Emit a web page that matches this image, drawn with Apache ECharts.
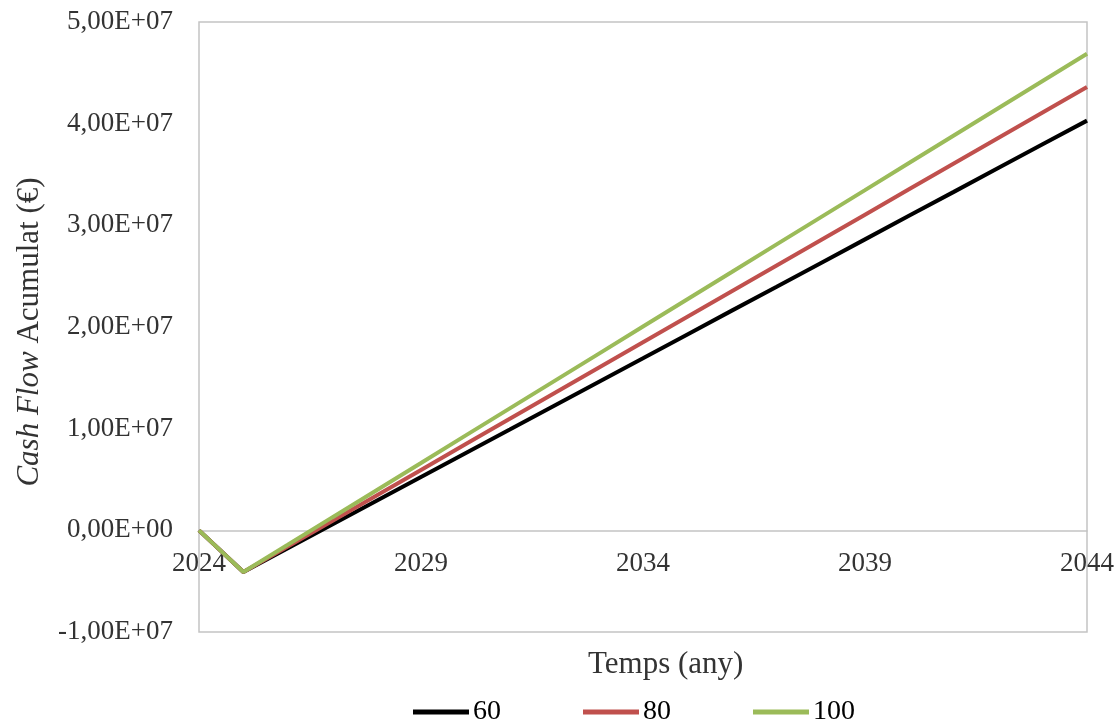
<!DOCTYPE html>
<html>
<head>
<meta charset="utf-8">
<script src="https://cdn.jsdelivr.net/npm/echarts@6/dist/echarts.min.js"></script>
<style>html,body{margin:0;padding:0;background:#fff}#c{width:1120px;height:727px}</style>
</head>
<body>
<div id="c"></div>
<script>
const years = [2024,2025,2026,2027,2028,2029,2030,2031,2032,2033,2034,2035,2036,2037,2038,2039,2040,2041,2042,2043,2044];
const s60  = [0,-4.10e6,-1.76e6,0.57e6,2.91e6,5.25e6,7.59e6,9.92e6,12.26e6,14.60e6,16.93e6,19.27e6,21.61e6,23.94e6,26.28e6,28.62e6,30.96e6,33.29e6,35.63e6,37.97e6,40.30e6];
const s80  = [0,-4.10e6,-1.59e6,0.92e6,3.43e6,5.94e6,8.46e6,10.97e6,13.48e6,15.99e6,18.50e6,21.01e6,23.52e6,26.03e6,28.54e6,31.05e6,33.57e6,36.08e6,38.59e6,41.10e6,43.61e6];
const s100 = [0,-4.10e6,-1.42e6,1.27e6,3.95e6,6.63e6,9.32e6,12.00e6,14.68e6,17.36e6,20.05e6,22.73e6,25.41e6,28.10e6,30.78e6,33.46e6,36.15e6,38.83e6,41.51e6,44.19e6,46.88e6];
const seriesNames = ['60','80','100'];
const colors = ['#000000','#C0504D','#9BBB59'];
const yMin = -1e7, yMax = 5e7;

const font = '"Liberation Serif", "Times New Roman", serif';
function fmt(v){
  if (v === 0) return '0,00E+00';
  const s = (Math.abs(v)/1e7).toFixed(2).replace('.',',') + 'E+07';
  return (v < 0 ? '-' : '') + s;
}
const gridTop = 22, gridBottom = 95, H = 727;
const plotH = H - gridTop - gridBottom;
// place the category axis line (and its labels) at value 0
const zeroOffset = -plotH * (0 - yMin) / (yMax - yMin);

const chart = echarts.init(document.getElementById('c'));
chart.setOption({
  animation:false,
  color: colors,
  textStyle:{fontFamily:font},
  title:{text:'Temps (any)', left:583, top:644, textStyle:{fontFamily:font,fontWeight:'normal',fontSize:31,color:'#333'}},
  grid:{left:199,right:33,top:gridTop,bottom:gridBottom,show:true,borderColor:'#c4c4c4',borderWidth:1.5},
  legend:{bottom:-4,left:408,itemWidth:56,itemHeight:5,itemGap:82,icon:'rect',
    textStyle:{fontFamily:font,fontSize:28,color:'#000',padding:[0,0,0,-1]},data:seriesNames},
  xAxis:{type:'category',data:years,boundaryGap:false,offset:zeroOffset,
    axisLine:{onZero:false,lineStyle:{color:'#c4c4c4',width:1.5}},
    axisTick:{show:false},
    axisLabel:{interval:4,fontFamily:font,fontSize:27,color:'#333',margin:20},
    splitLine:{show:false}},
  yAxis:{type:'value',min:yMin,max:yMax,interval:1e7,
    axisLine:{show:false},axisTick:{show:false},splitLine:{show:false},
    axisLabel:{formatter:fmt,fontFamily:font,fontSize:27,color:'#333',margin:26},
    name:'{i|Cash Flow} Acumulat (€)',nameLocation:'middle',nameGap:154,
    nameTextStyle:{fontFamily:font,fontSize:31,color:'#333',padding:[0,0,0,-10],
      rich:{i:{fontFamily:font,fontSize:31,fontStyle:'italic',color:'#333'}}}},
  series:[
    {name:'60',type:'line',data:s60,showSymbol:false,lineStyle:{width:4,color:colors[0]},z:3},
    {name:'80',type:'line',data:s80,showSymbol:false,lineStyle:{width:4,color:colors[1]},z:4},
    {name:'100',type:'line',data:s100,showSymbol:false,lineStyle:{width:4,color:colors[2]},z:5}
  ]
});
</script>
</body>
</html>
